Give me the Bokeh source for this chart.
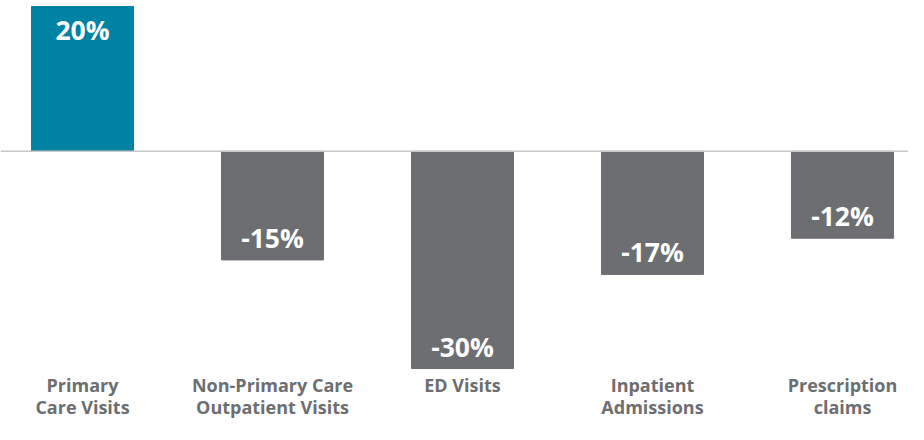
from bokeh.plotting import figure
from bokeh.models import ColumnDataSource, Range1d, Span
from bokeh.core.properties import value
from bokeh.embed import file_html
from bokeh.resources import INLINE

categories = ["Primary\nCare Visits", "Non-Primary Care\nOutpatient Visits", "ED Visits",
              "Inpatient\nAdmissions", "Prescription\nclaims"]
values = [20, -15, -30, -17, -12]
value_labels = ["20%", "-15%", "-30%", "-17%", "-12%"]
colors = ["#0082A5", "#6D6E71", "#6D6E71", "#6D6E71", "#6D6E71"]

W, H = 908, 424
Y_END, Y_START = 20.83, -37.73

xs = list(range(len(categories)))
src = ColumnDataSource(dict(
    x=xs, top=values, label=value_labels, color=colors,
    yoff=[23 if v > 0 else -22 for v in values],
))
line1 = [c.split("\n")[0] for c in categories]
line2 = [c.split("\n")[1] if "\n" in c else "" for c in categories]
cat_src = ColumnDataSource(dict(x=xs, y=[Y_START] * len(xs), l1=line1, l2=line2))

p = figure(width=W, height=H, output_backend="svg", toolbar_location=None,
           x_range=Range1d(-0.4316, 4.3474), y_range=Range1d(Y_START, Y_END),
           min_border_left=0, min_border_right=0, min_border_top=0, min_border_bottom=0)
p.outline_line_color = None
p.background_fill_color = None
p.border_fill_color = None
p.grid.visible = False
p.axis.visible = False

p.vbar(x="x", top="top", bottom=0, width=0.537, color="color", source=src)
p.add_layout(Span(location=0, dimension="width", line_color="#C8C8C8", line_width=1.5))

p.text(x="x", y="top", text="label", y_offset="yoff", source=src,
       text_align="center", text_baseline="middle", text_color="white",
       text_font=value("Open Sans"), text_font_style="bold", text_font_size="26.5px")

for col, off in (("l1", -40), ("l2", -18)):
    p.text(x="x", y="y", text=col, y_offset=off, source=cat_src,
           text_align="center", text_baseline="middle", text_color="#6D6E71",
           text_font=value("Open Sans"), text_font_style="bold", text_font_size="18px")

open("out.html", "w").write(file_html(p, INLINE))
